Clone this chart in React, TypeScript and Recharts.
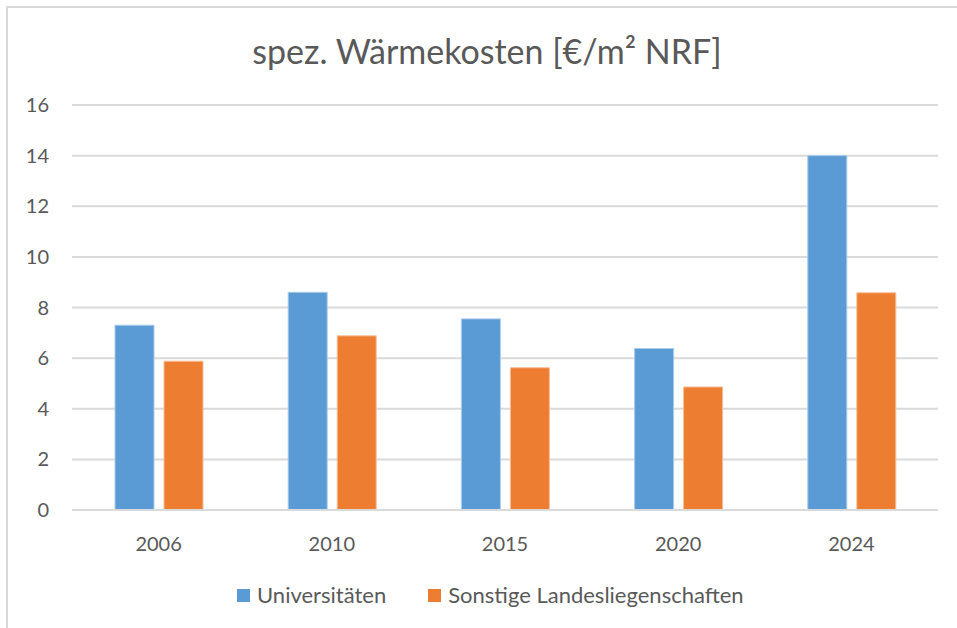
import { BarChart, Bar, XAxis, YAxis, CartesianGrid } from 'recharts'

const years = ['2006', '2010', '2015', '2020', '2024']
const universitaeten = [7.3, 8.6, 7.55, 6.38, 14.0]
const sonstige = [5.88, 6.88, 5.62, 4.86, 8.58]
const yTicks = [0, 2, 4, 6, 8, 10, 12, 14, 16]

const series = [
  { key: 'uni', name: 'Universitäten', color: '#5B9BD5', edge: '#A9CBEB' },
  { key: 'sonst', name: 'Sonstige Landesliegenschaften', color: '#ED7D31', edge: '#F6BE98' },
]

const data = years.map((year, i) => ({
  year,
  uni: universitaeten[i],
  sonst: sonstige[i],
}))

const font = 'Lato, "Open Sans", sans-serif'
const textColor = '#595959'

export default function App() {
  return (
    <div style={{ position: 'absolute', left: 0, top: 0, width: 957, height: 628, background: '#fff' }}>
      <div style={{ position: 'absolute', left: 6, top: 6, width: 951, height: 2, background: '#D9D9D9' }} />
      <div style={{ position: 'absolute', left: 6, top: 6, width: 2, height: 622, background: '#D9D9D9' }} />
      <div
        style={{
          position: 'absolute', left: 0, top: 31, width: 974, textAlign: 'center',
          fontFamily: font, fontSize: 34, color: textColor, lineHeight: '40px',
        }}
      >
        spez. Wärmekosten [€/m² NRF]
      </div>
      <BarChart
        width={957}
        height={628}
        data={data}
        margin={{ top: 105, right: 19, left: 0, bottom: 88 }}
        barSize={39}
        barGap={10}
      >
        <CartesianGrid vertical={false} stroke="#DADADA" strokeWidth={2} />
        <XAxis
          dataKey="year"
          height={30}
          axisLine={{ stroke: '#DADADA', strokeWidth: 2 }}
          tickLine={false}
          tickSize={0}
          tickMargin={27}
          tick={{ fill: textColor, fontSize: 20, fontFamily: font }}
        />
        <YAxis
          width={72}
          domain={[0, 16]}
          ticks={yTicks}
          axisLine={false}
          tickLine={false}
          tickSize={0}
          tickMargin={23}
          tick={{ fill: textColor, fontSize: 20, fontFamily: font }}
        />
        {series.map((s) => (
          <Bar key={s.key} dataKey={s.key} name={s.name} fill={s.color} stroke={s.edge} strokeWidth={1} isAnimationActive={false} />
        ))}
      </BarChart>
      <div
        style={{
          position: 'absolute', left: 237, top: 582, display: 'flex', alignItems: 'center',
          fontFamily: font, fontSize: 22, color: textColor, lineHeight: '26px',
        }}
      >
        {series.map((s, i) => (
          <div key={s.key} style={{ display: 'flex', alignItems: 'center', marginRight: i === 0 ? 42 : 0 }}>
            <span style={{ width: 13, height: 13, background: s.color, display: 'inline-block', marginRight: 7 }} />
            <span>{s.name}</span>
          </div>
        ))}
      </div>
    </div>
  )
}
